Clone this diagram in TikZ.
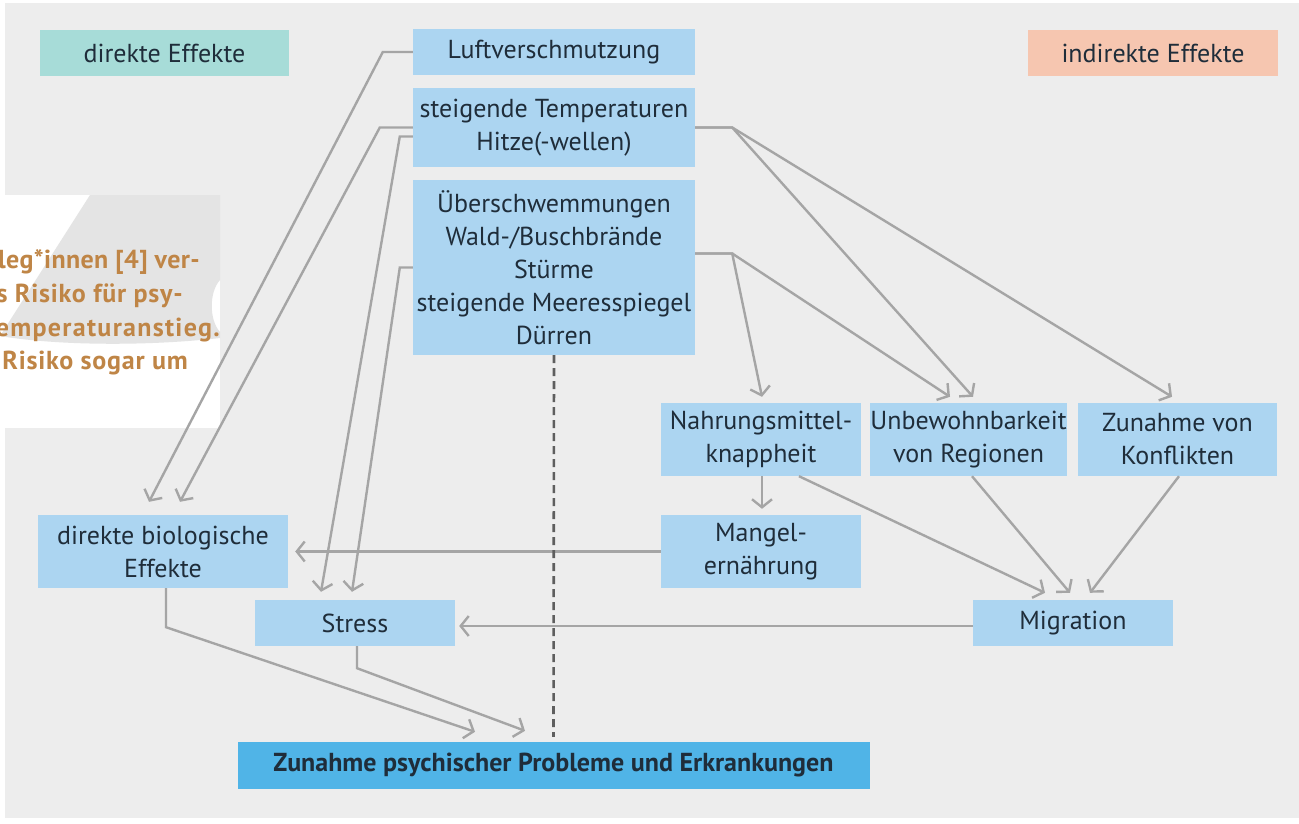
\documentclass[tikz,border=0pt]{standalone}
\usepackage{fontspec}
\setmainfont{PT Sans}
\usetikzlibrary{arrows.meta}
\definecolor{pagegray}{HTML}{EDEDED}
\definecolor{boxblue}{HTML}{ACD5F1}
\definecolor{mainblue}{HTML}{50B4E7}
\definecolor{teal}{HTML}{A7DCD8}
\definecolor{salmon}{HTML}{F6C6B0}
\definecolor{txt}{HTML}{1F2D3A}
\definecolor{linegray}{HTML}{A5A5A5}
\definecolor{dashgray}{HTML}{5E5E5E}
\definecolor{blobgray}{HTML}{E4E4E4}
\definecolor{ochre}{HTML}{BF8546}

\tikzset{
  box/.style={fill=boxblue, text=txt, inner sep=0pt, align=center,
    font=\fontsize{26}{33}\selectfont},
  conn/.style={draw=linegray, line width=2.4pt,
    -{Straight Barb[length=8pt,width=20pt,line width=2.4pt]}},
  dashline/.style={draw=dashgray, line width=2.6pt, dash pattern=on 8pt off 5pt},
  sidetext/.style={text=ochre, anchor=east, inner sep=0pt,
    font=\bfseries\fontsize{26}{33}\selectfont\addfontfeatures{LetterSpace=3}}
}

\begin{document}
\begin{tikzpicture}[x=1pt,y=-1pt]
\useasboundingbox (0,0) rectangle (1299,824);
\fill[white] (0,0) rectangle (1299,824);
\fill[pagegray] (5,3) rectangle (1299,818);

% white text panel with its grey ornament, cut at the left edge
\fill[white] (0,195) rectangle (220,428);
\begin{scope}
  \clip (0,195) rectangle (220,428);
  \fill[blobgray] (90,195) -- (220,195) -- (220,280)
     .. controls (209,292) and (209,320) .. (220,332) -- (220,338)
     .. controls (150,346) and (60,346) .. (0,336) -- cycle;
  \node[sidetext, font=\bfseries\fontsize{26}{33}\selectfont\addfontfeatures{LetterSpace=1.5}] (p1) at (200,262) {Kolleg*innen [4] ver-};
  \node[sidetext] (p2) at (183,296) {das Risiko für psy-};
  \node[sidetext, font=\bfseries\fontsize{26}{33}\selectfont\addfontfeatures{LetterSpace=5}] (p3) at (220,330) {Temperaturanstieg.};
  \node[sidetext] (p4) at (188,363) {das Risiko sogar um};
\end{scope}

% legend
\node[box, fill=teal, minimum width=249pt, minimum height=46pt] (direkt) at (164.5,53) {direkte Effekte};
\node[box, fill=salmon, minimum width=250pt, minimum height=46pt] (indirekt) at (1153,53) {indirekte Effekte};

% causes
\node[box, minimum width=282pt, minimum height=46pt] (luft) at (554,52) {Luftverschmutzung};
\node[box, minimum width=282pt, minimum height=79pt] (temp) at (554,127.5) {steigende Temperaturen\\Hitze(-wellen)};
\node[box, minimum width=282pt, minimum height=175pt] (ext) at (554,267.5) {Überschwemmungen\\Wald-/Buschbrände\\Stürme\\steigende Meeresspiegel\\Dürren};

% indirect effects
\node[box, minimum width=200pt, minimum height=73pt] (nahr) at (761,439.5) {Nahrungsmittel-\\knappheit};
\node[box, minimum width=197pt, minimum height=73pt] (unbew) at (968.5,439.5) {Unbewohnbarkeit\\von Regionen};
\node[box, minimum width=199pt, minimum height=73pt] (konf) at (1177.5,439.5) {Zunahme von\\Konflikten};
\node[box, minimum width=200pt, minimum height=73pt] (mangel) at (761,551.5) {Mangel-\\ernährung};
\node[box, minimum width=200pt, minimum height=46pt] (migr) at (1073,623) {Migration};

% direct effects
\node[box, minimum width=250pt, minimum height=73pt] (bio) at (163,551.5) {direkte biologische\\Effekte};
\node[box, minimum width=200pt, minimum height=46pt] (stress) at (355,623) {Stress};

% outcome
\node[box, fill=mainblue, minimum width=632pt, minimum height=47pt,
  font=\bfseries\fontsize{26}{33}\selectfont] (zun) at (553.5,765.5) {Zunahme psychischer Probleme und Erkrankungen};

% connectors on the left
\draw[conn] (luft.west) -- ++(-30,0) -- ([xshift=-14pt,yshift=13pt]bio.north);
\draw[conn] (temp.west) -- ++(-33,0) -- ([xshift=17pt,yshift=13pt]bio.north);
\draw[conn] ([yshift=-9pt]temp.west) -- ++(-13,0) -- ([xshift=-34pt,yshift=8pt]stress.north);
\draw[conn] (ext.west) -- ++(-13,0) -- ([xshift=-3pt,yshift=8pt]stress.north);

% connectors on the right
\draw[conn] (temp.east) -- ++(37,0) -- ([xshift=4.5pt,yshift=6pt]unbew.north);
\draw[conn] (temp.east) -- ++(37,0) -- ([xshift=-5.5pt,yshift=6pt]konf.north);
\draw[conn] ([yshift=14pt]ext.east) -- ++(37,0) -- ([xshift=1pt,yshift=6pt]nahr.north);
\draw[conn] ([yshift=14pt]ext.east) -- ++(37,0) -- ([xshift=-18.5pt,yshift=6pt]unbew.north);

\draw[conn] ([xshift=1pt]nahr.south) -- ([xshift=1pt,yshift=6pt]mangel.north);
\draw[conn] ([xshift=38pt]nahr.south) -- ([xshift=-28pt,yshift=7pt]migr.north);
\draw[conn] ([xshift=3.5pt]unbew.south) -- ([xshift=-3pt,yshift=7pt]migr.north);
\draw[conn] ([xshift=1.5pt]konf.south) -- ([xshift=17pt,yshift=7pt]migr.north);

\draw[conn] (mangel.west) -- ([xshift=7pt]bio.east);
\draw[conn] ([yshift=-3pt]migr.west) -- ([xshift=4pt,yshift=-3pt]stress.east);

% into the outcome
\draw[conn] ([xshift=3pt]bio.south) -- ++(0,39) -- ([xshift=-78.5pt,yshift=10pt]zun.north);
\draw[conn] ([xshift=2pt]stress.south) -- ++(0,22) -- ([xshift=-28.5pt,yshift=11pt]zun.north);
\draw[dashline] (ext.south) -- ([yshift=5pt]zun.north);
\end{tikzpicture}
\end{document}
